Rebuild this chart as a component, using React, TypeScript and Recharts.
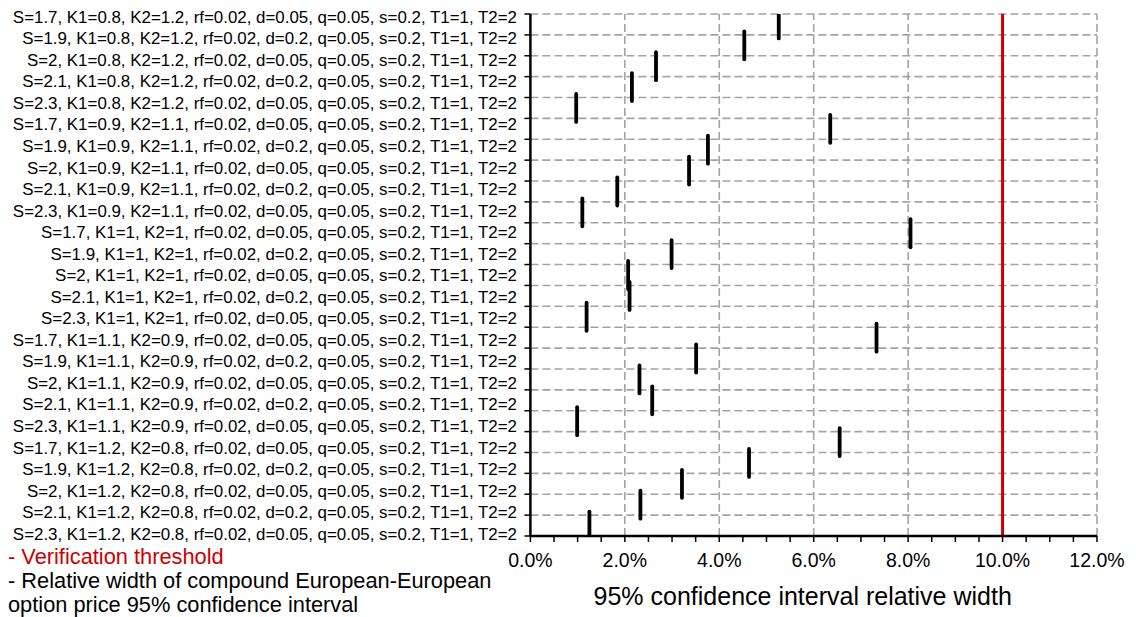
import React from "react";
import {
  ComposedChart,
  Scatter,
  XAxis,
  YAxis,
  CartesianGrid,
  ReferenceLine,
  Legend,
} from "recharts";

const scenarios = [
  "S=1.7, K1=0.8, K2=1.2, rf=0.02, d=0.05, q=0.05, s=0.2, T1=1, T2=2",
  "S=1.9, K1=0.8, K2=1.2, rf=0.02, d=0.2, q=0.05, s=0.2, T1=1, T2=2",
  "S=2, K1=0.8, K2=1.2, rf=0.02, d=0.05, q=0.05, s=0.2, T1=1, T2=2",
  "S=2.1, K1=0.8, K2=1.2, rf=0.02, d=0.2, q=0.05, s=0.2, T1=1, T2=2",
  "S=2.3, K1=0.8, K2=1.2, rf=0.02, d=0.05, q=0.05, s=0.2, T1=1, T2=2",
  "S=1.7, K1=0.9, K2=1.1, rf=0.02, d=0.05, q=0.05, s=0.2, T1=1, T2=2",
  "S=1.9, K1=0.9, K2=1.1, rf=0.02, d=0.2, q=0.05, s=0.2, T1=1, T2=2",
  "S=2, K1=0.9, K2=1.1, rf=0.02, d=0.05, q=0.05, s=0.2, T1=1, T2=2",
  "S=2.1, K1=0.9, K2=1.1, rf=0.02, d=0.2, q=0.05, s=0.2, T1=1, T2=2",
  "S=2.3, K1=0.9, K2=1.1, rf=0.02, d=0.05, q=0.05, s=0.2, T1=1, T2=2",
  "S=1.7, K1=1, K2=1, rf=0.02, d=0.05, q=0.05, s=0.2, T1=1, T2=2",
  "S=1.9, K1=1, K2=1, rf=0.02, d=0.2, q=0.05, s=0.2, T1=1, T2=2",
  "S=2, K1=1, K2=1, rf=0.02, d=0.05, q=0.05, s=0.2, T1=1, T2=2",
  "S=2.1, K1=1, K2=1, rf=0.02, d=0.2, q=0.05, s=0.2, T1=1, T2=2",
  "S=2.3, K1=1, K2=1, rf=0.02, d=0.05, q=0.05, s=0.2, T1=1, T2=2",
  "S=1.7, K1=1.1, K2=0.9, rf=0.02, d=0.05, q=0.05, s=0.2, T1=1, T2=2",
  "S=1.9, K1=1.1, K2=0.9, rf=0.02, d=0.2, q=0.05, s=0.2, T1=1, T2=2",
  "S=2, K1=1.1, K2=0.9, rf=0.02, d=0.05, q=0.05, s=0.2, T1=1, T2=2",
  "S=2.1, K1=1.1, K2=0.9, rf=0.02, d=0.2, q=0.05, s=0.2, T1=1, T2=2",
  "S=2.3, K1=1.1, K2=0.9, rf=0.02, d=0.05, q=0.05, s=0.2, T1=1, T2=2",
  "S=1.7, K1=1.2, K2=0.8, rf=0.02, d=0.05, q=0.05, s=0.2, T1=1, T2=2",
  "S=1.9, K1=1.2, K2=0.8, rf=0.02, d=0.2, q=0.05, s=0.2, T1=1, T2=2",
  "S=2, K1=1.2, K2=0.8, rf=0.02, d=0.05, q=0.05, s=0.2, T1=1, T2=2",
  "S=2.1, K1=1.2, K2=0.8, rf=0.02, d=0.2, q=0.05, s=0.2, T1=1, T2=2",
  "S=2.3, K1=1.2, K2=0.8, rf=0.02, d=0.05, q=0.05, s=0.2, T1=1, T2=2",
];

// relative width of the 95% CI, in percent
const relWidth = [
  5.26, 4.53, 2.66, 2.15, 0.97, 6.35, 3.76, 3.36, 1.84, 1.1, 8.05, 2.99, 2.07,
  2.1, 1.19, 7.33, 3.51, 2.31, 2.58, 0.99, 6.55, 4.63, 3.21, 2.33, 1.25,
];

const majorTicks = [0, 2, 4, 6, 8, 10, 12];
const minorTicks = [
  0, 0.5, 1, 1.5, 2, 2.5, 3, 3.5, 4, 4.5, 5, 5.5, 6, 6.5, 7, 7.5, 8, 8.5, 9,
  9.5, 10, 10.5, 11, 11.5, 12,
];
const threshold = 10;

const FONT = "'Liberation Sans', Arial, Helvetica, sans-serif";
const GRID = "#a3a3a3";

const rows = scenarios.map((label, i) => ({
  label,
  value: relWidth[i],
  pos: i + 0.5,
}));
const rowEdges = Array.from({ length: scenarios.length + 1 }, (_, i) => i);

function CategoryTick(props: any) {
  const { x, y, payload } = props;
  return (
    <text
      x={x}
      y={y}
      dy="0.36em"
      textAnchor="end"
      fontSize={16.9}
      fontFamily={FONT}
      fill="#000"
    >
      {payload.value}
    </text>
  );
}

function IntervalMark(props: any) {
  const { cx, cy } = props;
  if (cx == null || cy == null) return null;
  return (
    <line
      x1={cx}
      x2={cx}
      y1={cy - 14}
      y2={cy + 14}
      stroke="#000"
      strokeWidth={3.8}
      strokeLinecap="round"
    />
  );
}

function LegendText() {
  return (
    <div style={{ fontFamily: FONT, fontSize: 21.8, lineHeight: "24px" }}>
      <div style={{ color: "#cc0000" }}>- Verification threshold</div>
      <div style={{ color: "#000", width: 500 }}>
        - Relative width of compound European-European
        <br />
        option price 95% confidence interval
      </div>
    </div>
  );
}

export default function App() {
  return (
    <ComposedChart
      width={1128}
      height={609}
      data={rows}
      layout="vertical"
      margin={{ top: 6, right: 39, bottom: 0, left: 0 }}
    >
      <CartesianGrid
        yAxisId="axis"
        vertical={false}
        stroke={GRID}
        strokeWidth={1.6}
        strokeDasharray="8 4"
      />
      <XAxis
        type="number"
        dataKey="value"
        domain={[0, 12]}
        ticks={minorTicks}
        interval={0}
        height={81}
        tickSize={6}
        tickMargin={11}
        axisLine={{ stroke: "#000", strokeWidth: 2.5 }}
        tickLine={{ stroke: "#000", strokeWidth: 1.5 }}
        tick={{ fontSize: 19.5, fontFamily: FONT, fill: "#000" }}
        tickFormatter={(v: number) =>
          majorTicks.includes(v) ? v.toFixed(1) + "%" : ""
        }
        label={{
          value: "95% confidence interval relative width",
          position: "insideBottom",
          offset: 12,
          dx: -11,
          fontSize: 25,
          fontFamily: FONT,
          fill: "#000",
        }}
      />
      <YAxis
        yAxisId="axis"
        type="number"
        dataKey="pos"
        domain={[0, scenarios.length]}
        ticks={rowEdges}
        interval={0}
        allowDataOverflow
        width={13.4}
        tickSize={6}
        tickFormatter={() => ""}
        axisLine={{ stroke: "#000", strokeWidth: 2.5 }}
        tickLine={{ stroke: "#000", strokeWidth: 1.5 }}
      />
      <YAxis
        yAxisId="labels"
        type="category"
        dataKey="label"
        scale="point"
        padding={{ top: 2.7, bottom: 2.4 }}
        interval={0}
        width={509}
        tickSize={0}
        tickMargin={0}
        axisLine={false}
        tickLine={false}
        tick={<CategoryTick />}
      />
      {majorTicks.slice(1).map((t) => (
        <ReferenceLine
          key={t}
          x={t}
          yAxisId="axis"
          stroke={GRID}
          strokeWidth={1.6}
          strokeDasharray="8 4"
        />
      ))}
      <ReferenceLine
        x={threshold}
        yAxisId="axis"
        stroke="#cc0000"
        strokeWidth={3}
      />
      <Scatter
        data={rows}
        dataKey="value"
        yAxisId="axis"
        shape={<IntervalMark />}
        isAnimationActive={false}
        legendType="none"
      />
      <Legend
        layout="horizontal"
        verticalAlign="middle"
        align="center"
        content={<LegendText />}
        wrapperStyle={{ left: 0, top: 537, width: 520, height: 72 }}
      />
    </ComposedChart>
  );
}
